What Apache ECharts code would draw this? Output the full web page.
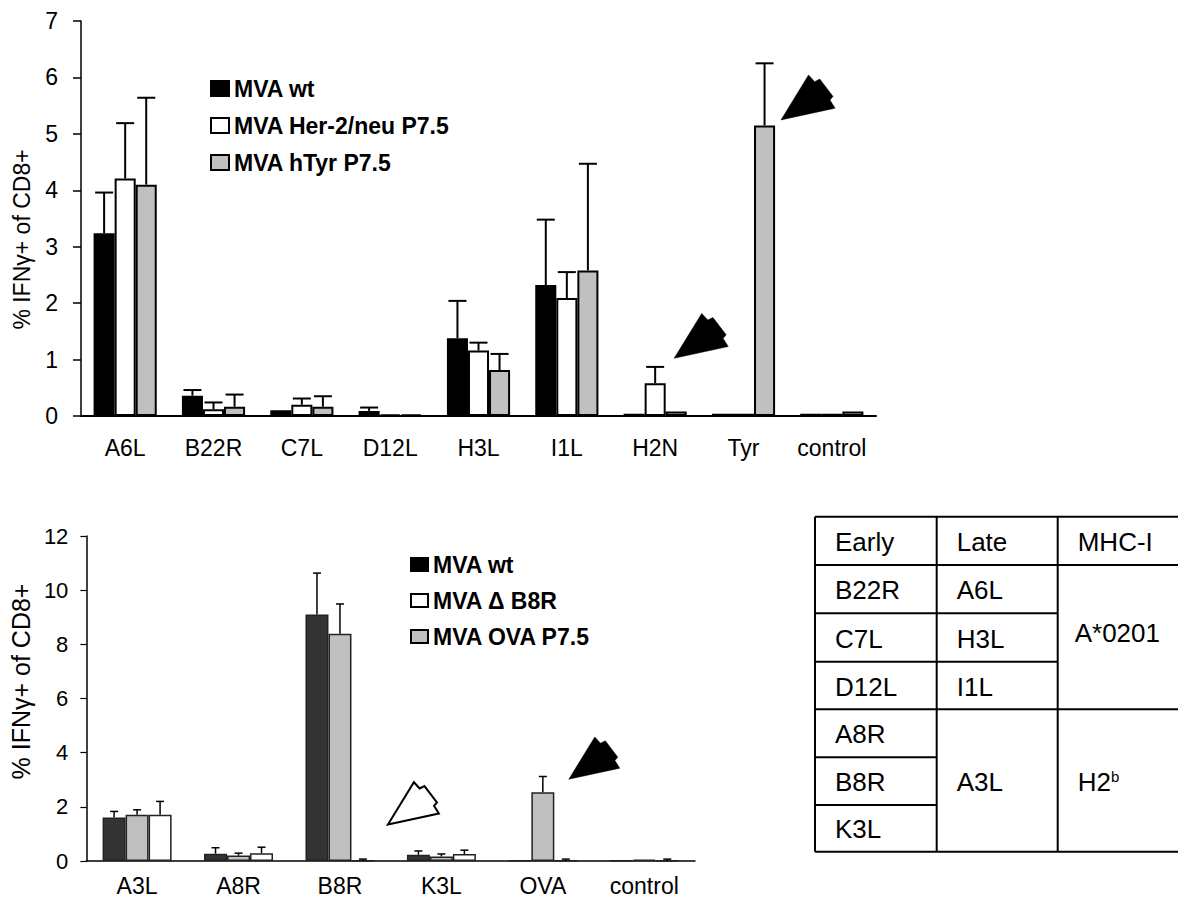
<!DOCTYPE html>
<html><head><meta charset="utf-8">
<script src="https://cdn.jsdelivr.net/npm/echarts@6/dist/echarts.min.js"></script>
<style>html,body{margin:0;padding:0;background:#fff}#c{width:1178px;height:897px}</style>
</head><body><div id="c"></div>
<script>
// ---------- DATA ----------
const topCategories = ['A6L','B22R','C7L','D12L','H3L','I1L','H2N','Tyr','control'];
const topNames = ['MVA wt','MVA Her-2/neu P7.5','MVA hTyr P7.5'];
const topWt      = [3.24, 0.36, 0.10, 0.09, 1.38, 2.32, 0.04, 0.04, 0.04];
const topWtErr   = [0.72, 0.10, 0.00, 0.06, 0.66, 1.16, 0.00, 0.00, 0.00];
const topHer     = [4.21, 0.12, 0.20, 0.03, 1.16, 2.09, 0.58, 0.04, 0.04];
const topHerErr  = [0.98, 0.12, 0.11, 0.00, 0.14, 0.46, 0.29, 0.00, 0.00];
const topTyr     = [4.10, 0.165, 0.165, 0.03, 0.815, 2.58, 0.08, 5.15, 0.08];
const topTyrErr  = [1.54, 0.215, 0.185, 0.00, 0.285, 1.89, 0.00, 1.10, 0.00];

const botCategories = ['A3L','A8R','B8R','K3L','OVA','control'];
const botNames = ['MVA wt','MVA OVA P7.5','MVA Δ B8R'];      // bar order
const botLegendOrder = ['MVA wt','MVA Δ B8R','MVA OVA P7.5'];
const botWt      = [1.61, 0.27, 9.10, 0.23, 0.01, 0.01];
const botWtErr   = [0.22, 0.22, 1.53, 0.14, 0.00, 0.00];
const botOva     = [1.71, 0.20, 8.39, 0.17, 2.54, 0.05];
const botOvaErr  = [0.18, 0.09, 1.10, 0.09, 0.58, 0.00];
const botDel     = [1.71, 0.29, 0.01, 0.26, 0.01, 0.01];
const botDelErr  = [0.49, 0.22, 0.06, 0.14, 0.06, 0.06];

const yTitle = '% IFNγ+ of CD8+';
const tableHeader = ['Early','Late','MHC-I'];
const earlyGenes = ['B22R','C7L','D12L','A8R','B8R','K3L'];
const lateGenes = ['A6L','H3L','I1L','A3L'];
const mhcTypes = ['A*0201','H2b'];

// ---------- STYLE ----------
const FONT = 'Liberation Sans, Arial, sans-serif';
const topColors = ['#000000','#ffffff','#c0c0c0'];
const botColors = ['#333333','#c0c0c0','#ffffff'];
const TOP_GAP = 0.285, BOT_GAP = 0.32;

const chart = echarts.init(document.getElementById('c'), null, {renderer:'svg'});

function errSeries(grid, vals, errs, k, n, gap, lw, capHalf){
  return {
    type:'custom', xAxisIndex:grid, yAxisIndex:grid, z:5, silent:true,
    data: vals.map((v,i)=>[i, v, v+errs[i], errs[i]]),
    renderItem:function(params, api){
      const e = api.value(3);
      if (!(e > 0)) return null;
      const band = api.size([1,0])[0];
      const bw = band*(1-gap)/n;
      const c = api.coord([api.value(0), api.value(1)]);
      const t = api.coord([api.value(0), api.value(2)]);
      const x = c[0] + (k-(n-1)/2)*bw;
      return {type:'group', children:[
        {type:'line', shape:{x1:x,y1:c[1],x2:x,y2:t[1]}, style:{stroke:'#000',lineWidth:lw}},
        {type:'line', shape:{x1:x-capHalf,y1:t[1],x2:x+capHalf,y2:t[1]}, style:{stroke:'#000',lineWidth:lw}}
      ]};
    }
  };
}

const topVals=[topWt,topHer,topTyr], topErrs=[topWtErr,topHerErr,topTyrErr];
const botVals=[botWt,botOva,botDel], botErrs=[botWtErr,botOvaErr,botDelErr];

const series=[];
topVals.forEach((v,k)=>series.push({
  type:'bar', name:topNames[k], xAxisIndex:0, yAxisIndex:0, data:v,
  barGap:'0%', barCategoryGap:(TOP_GAP*100)+'%',
  itemStyle:{color:topColors[k], borderColor:'#000', borderWidth:2}
}));
botVals.forEach((v,k)=>series.push({
  type:'bar', name:botNames[k], xAxisIndex:1, yAxisIndex:1, data:v,
  barGap:'0%', barCategoryGap:(BOT_GAP*100)+'%',
  itemStyle:{color:botColors[k], borderColor:'#222', borderWidth:1.5}
}));
topVals.forEach((v,k)=>series.push(errSeries(0, v, topErrs[k], k, 3, TOP_GAP, 2, 9)));
botVals.forEach((v,k)=>series.push(errSeries(1, v, botErrs[k], k, 3, BOT_GAP, 1.5, 4)));

const axisTxt = {color:'#000', fontFamily:FONT, fontSize:22};

const option = {
  animation:false,
  backgroundColor:'#fff',
  grid:[
    {left:81, right:302, top:21, bottom:481},
    {left:77, right:483, top:536, bottom:34}
  ],
  legend:[
    {orient:'vertical', left:205, top:72, itemWidth:18, itemHeight:15, itemGap:14, selectedMode:false,
     textStyle:{fontFamily:FONT, fontSize:23, fontWeight:'bold', color:'#000'},
     data: topNames.map((n,k)=>({name:n, icon:'rect', itemStyle:{color:topColors[k], borderColor:'#000', borderWidth:2}}))},
    {orient:'vertical', left:405, top:548, itemWidth:17, itemHeight:13, itemGap:13, selectedMode:false,
     textStyle:{fontFamily:FONT, fontSize:23, fontWeight:'bold', color:'#000'},
     data: botLegendOrder.map(n=>({name:n, icon:'rect', itemStyle:{color: n==='MVA wt'?'#000':(n==='MVA Δ B8R'?'#fff':'#c0c0c0'), borderColor:'#000', borderWidth:2}}))}
  ],
  xAxis:[
    {type:'category', gridIndex:0, data:topCategories,
     axisLine:{lineStyle:{color:'#000', width:2}}, axisTick:{length:8, lineStyle:{color:'#000', width:1.5}},
     axisLabel:Object.assign({}, axisTxt, {margin:20, fontSize:23, interval:0})},
    {type:'category', gridIndex:1, data:botCategories,
     axisLine:{lineStyle:{color:'#000', width:1.5}}, axisTick:{length:5, lineStyle:{color:'#000', width:1}},
     axisLabel:Object.assign({}, axisTxt, {margin:13, fontSize:23, interval:0})}
  ],
  yAxis:[
    {type:'value', gridIndex:0, min:0, max:7, interval:1,
     axisLine:{show:true, lineStyle:{color:'#000', width:1.5}}, axisTick:{show:true, length:8, lineStyle:{color:'#000', width:1.5}},
     splitLine:{show:false}, axisLabel:Object.assign({}, axisTxt, {margin:23, fontSize:23}),
     name:yTitle, nameLocation:'middle', nameGap:48,
     nameTextStyle:{fontFamily:FONT, fontSize:23, color:'#000', padding:[0,42,0,0]}},
    {type:'value', gridIndex:1, min:0, max:12, interval:2,
     axisLine:{show:true, lineStyle:{color:'#000', width:1.5}}, axisTick:{show:true, length:6, lineStyle:{color:'#000', width:1.2}},
     splitLine:{show:false}, axisLabel:Object.assign({}, axisTxt, {margin:18}),
     name:yTitle, nameLocation:'middle', nameGap:44,
     nameTextStyle:{fontFamily:FONT, fontSize:25, color:'#000', padding:[0,0,0,34]}}
  ],
  series:series
};
chart.setOption(option);

// ---------- annotations: arrows + table ----------
const arrowShape = [[0,0],[27,-44],[33,-37.5],[38,-40],[51,-23],[48,-19.5],[53,-11.5]];
function arrow(grid, cat, val, dx, dy, s, fill){
  const p = chart.convertToPixel({gridIndex:grid}, [cat, val]);
  const tip=[p[0]+dx, p[1]+dy];
  return {type:'polygon', z:10, shape:{points:arrowShape.map(q=>[tip[0]+q[0]*s, tip[1]+q[1]*s])},
          style:{fill:fill, stroke:'#000', lineWidth:fill==='#000'?0.5:2, lineJoin:'miter'}};
}
const graphics = [
  arrow(0,'Tyr',5.15,37.5,-5.5,1.02,'#000'),
  arrow(0,'H2N',0.58,19,-25,1.02,'#000'),
  arrow(1,'B8R',0,48,-36.5,0.96,'#fff'),
  arrow(1,'OVA',2.54,26,-13,0.96,'#000')
];

const TX=[815,936.7,1057.7,1182];
const TY=[516.7,565,613.3,661.7,709.3,757.3,805,851.7];
const L = (x1,y1,x2,y2)=>({type:'line', shape:{x1,y1,x2,y2}, style:{stroke:'#000', lineWidth:2}});
graphics.push(
  L(TX[0],TY[0],TX[3],TY[0]), L(TX[0],TY[1],TX[3],TY[1]), L(TX[0],TY[4],TX[3],TY[4]), L(TX[0],TY[7],TX[3],TY[7]),
  L(TX[0],TY[2],TX[2],TY[2]), L(TX[0],TY[3],TX[2],TY[3]),
  L(TX[0],TY[5],TX[1],TY[5]), L(TX[0],TY[6],TX[1],TY[6]),
  L(TX[0],TY[0],TX[0],TY[7]), L(TX[1],TY[0],TX[1],TY[7]), L(TX[2],TY[0],TX[2],TY[7])
);
function T(str, x, y){
  return {type:'text', x:x, y:y, style:{text:str, fontFamily:FONT, fontSize:26, fill:'#000', textAlign:'left', textVerticalAlign:'middle'}};
}
const mid=(a,b)=>(a+b)/2;
graphics.push(T(tableHeader[0], TX[0]+20, mid(TY[0],TY[1])+1));
graphics.push(T(tableHeader[1], TX[1]+20, mid(TY[0],TY[1])+1));
graphics.push(T(tableHeader[2], TX[2]+20, mid(TY[0],TY[1])+1));
earlyGenes.forEach((g,i)=>graphics.push(T(g, TX[0]+20, mid(TY[i+1],TY[i+2])+1)));
lateGenes.slice(0,3).forEach((g,i)=>graphics.push(T(g, TX[1]+20, mid(TY[i+1],TY[i+2])+1)));
graphics.push(T(lateGenes[3], TX[1]+20, mid(TY[4],TY[7])+1));
graphics.push(T(mhcTypes[0], TX[2]+17, mid(TY[1],TY[4])-4));
graphics.push({type:'text', x:TX[2]+20, y:mid(TY[4],TY[7])+1,
  style:{text:'{a|H2}{b|b}', fontFamily:FONT, fontSize:26, fill:'#000', textVerticalAlign:'middle',
    rich:{a:{fontFamily:FONT, fontSize:26, fill:'#000'}, b:{fontFamily:FONT, fontSize:15, fill:'#000', verticalAlign:'top', padding:[0,0,10,0]}}}});

chart.setOption({graphic:graphics});
</script></body></html>
